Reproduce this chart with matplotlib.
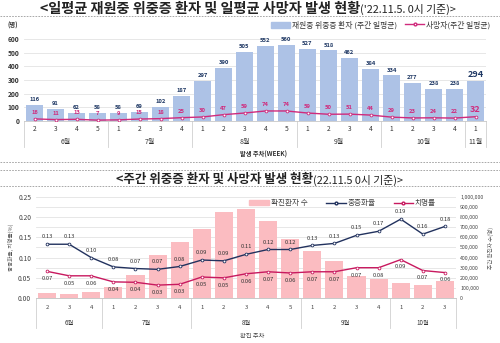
import matplotlib
matplotlib.use('Agg')
import matplotlib.pyplot as plt
from matplotlib.patches import Patch
from matplotlib.lines import Line2D
from matplotlib.ticker import FuncFormatter

plt.rcParams['font.family'] = ['Noto Sans CJK KR', 'DejaVu Sans']

# ---- top chart data (weekly daily averages)
top_weeks = ['2', '3', '4', '5', '1', '2', '3', '4', '1', '2', '3', '4', '5',
             '1', '2', '3', '4', '1', '2', '3', '4', '1']
top_months = ['6월', '7월', '8월', '9월', '10월', '11월']
top_month_sizes = [4, 4, 5, 4, 4, 1]
severe_avg = [116, 91, 62, 58, 58, 69, 102, 187, 297, 390, 505, 552, 560,
              527, 518, 462, 384, 334, 277, 238, 238, 294]
deaths_avg = [16, 11, 13, 7, 9, 15, 18, 25, 30, 47, 59, 74, 74,
              59, 50, 51, 44, 29, 23, 24, 22, 32]

# ---- bottom chart data (weekly)
bot_weeks = ['2', '3', '4', '1', '2', '3', '4', '1', '2', '3', '4', '5',
             '1', '2', '3', '4', '1', '2', '3']
bot_months = ['6월', '7월', '8월', '9월', '10월']
bot_month_sizes = [3, 4, 5, 4, 3]
confirmed = [52000, 43000, 59000, 111000, 226000, 423000, 551000, 679000, 846000,
             885000, 761000, 587000, 469000, 370000, 223000, 190000, 148000,
             134000, 164000]
severe_rate = [0.133, 0.133, 0.100, 0.077, 0.073, 0.071, 0.078, 0.094, 0.092,
               0.108, 0.120, 0.120, 0.130, 0.135, 0.155, 0.165, 0.195, 0.158, 0.177]
severe_lbl = [0.13, 0.13, 0.10, 0.08, 0.07, 0.07, 0.08, 0.09, 0.09, 0.11, 0.12,
              0.12, 0.13, 0.13, 0.15, 0.17, 0.19, 0.16, 0.18]
fatal_rate = [0.066, 0.055, 0.055, 0.040, 0.039, 0.032, 0.034, 0.052, 0.050,
              0.060, 0.065, 0.062, 0.065, 0.065, 0.075, 0.075, 0.095, 0.068, 0.063]
fatal_lbl = [0.07, 0.05, 0.06, 0.04, 0.04, 0.03, 0.03, 0.05, 0.05, 0.06, 0.07,
             0.06, 0.07, 0.07, 0.07, 0.08, 0.09, 0.07, 0.06]

BLUE = '#adc2e6'
NAVY = '#1f3864'
MAG = '#d02a7c'
PINK = '#fbbcc1'
DNAVY = '#22325e'
RED = '#c8195f'
GRID = '#e3e3e3'

fig = plt.figure(figsize=(5, 3.43), dpi=100)


def month_axis(ax, months, sizes, y_month, y_line, fs):
    pos = -0.5
    ax.plot([pos, pos], [0, y_line], transform=ax.get_xaxis_transform(),
            color='#d0d0d0', lw=0.6, clip_on=False)
    for m, s in zip(months, sizes):
        ax.text(pos + s / 2, y_month, m, transform=ax.get_xaxis_transform(),
                ha='center', va='center', fontsize=fs, color='#333333')
        pos += s
        ax.plot([pos, pos], [0, y_line], transform=ax.get_xaxis_transform(),
                color='#d0d0d0', lw=0.6, clip_on=False)


def dashed(y):
    fig.add_artist(Line2D([0, 1], [y, y], transform=fig.transFigure,
                          color='#9a9a9a', lw=0.6, ls=(0, (2, 1.5))))


# ================= top chart =================
fig.text(0.72, 0.975, '<일평균 재원중 위중증 환자 및 일평균 사망자 발생 현황',
         ha='right', va='center', fontsize=10.2, fontweight='bold', color='#222222')
fig.text(0.72, 0.972, "('22.11.5. 0시 기준)>", ha='left', va='center',
         fontsize=7.8, color='#222222')
dashed(0.953)

ax1 = fig.add_axes([0.048, 0.647, 0.924, 0.239])
x1 = range(len(severe_avg))
ax1.bar(x1, severe_avg, width=0.8, color=BLUE, zorder=2)
ax1.plot(x1, deaths_avg, color=MAG, lw=1, marker='o', ms=2, mfc='white',
         mec=MAG, mew=0.6, zorder=3)
for i, (v, d) in enumerate(zip(severe_avg, deaths_avg)):
    last = i == len(severe_avg) - 1
    ax1.annotate(str(v), (i, v), xytext=(0, 4.5 if last else 3.8),
                 textcoords='offset points', ha='center', va='center',
                 fontsize=6.5 if last else 4.2, fontweight='bold', color=NAVY)
    ax1.annotate(str(d), (i, d), xytext=(0, 5.5 if last else 4.6),
                 textcoords='offset points', ha='center', va='center',
                 fontsize=6.5 if last else 4.2, fontweight='bold', color=MAG)
ax1.set_xlim(-0.5, len(severe_avg) - 0.5)
ax1.set_ylim(0, 600)
ax1.set_yticks(range(0, 601, 100))
ax1.set_xticks(list(x1))
ax1.set_xticklabels(top_weeks)
ax1.tick_params(axis='both', length=0, labelsize=4.8, colors='#333333')
ax1.tick_params(axis='x', pad=3)
for lab in ax1.get_yticklabels():
    lab.set_fontweight('bold')
ax1.grid(axis='y', color=GRID, lw=0.6, zorder=0)
for s in ['top', 'right', 'left']:
    ax1.spines[s].set_visible(False)
ax1.spines['bottom'].set_color('#c8c8c8')
ax1.spines['bottom'].set_linewidth(0.6)
month_axis(ax1, top_months, top_month_sizes, -0.26, -0.32, 5)
ax1.text(-0.025, 1.17, '(명)', transform=ax1.transAxes, ha='center', va='center',
         fontsize=4.5, fontweight='bold', color='#333333')
fig.text(0.527, 0.551, '발생 주차(WEEK)', ha='center', va='center',
         fontsize=4.5, fontweight='bold', color='#333333')
h1 = [Patch(color=BLUE),
      Line2D([0], [0], color=MAG, lw=1, marker='o', ms=2, mfc='white', mec=MAG)]
fig.legend(h1, ['재원중 위중증 환자 (주간 일평균)', '사망자(주간 일평균)'],
           loc='center', bbox_to_anchor=(0.762, 0.927), ncol=2, frameon=False,
           fontsize=5.6, handlelength=2.4, handleheight=0.8, columnspacing=1.0,
           handletextpad=0.3, labelcolor='#333333')

dashed(0.528)
dashed(0.503)

# ================= bottom chart =================
fig.text(0.626, 0.478, '<주간 위중증 환자 및 사망자 발생 현황',
         ha='right', va='center', fontsize=9, fontweight='bold', color='#222222')
fig.text(0.626, 0.475, '(22.11.5 0시 기준)>', ha='left', va='center',
         fontsize=7.8, color='#222222')
dashed(0.457)

ax2 = fig.add_axes([0.072, 0.131, 0.84, 0.295])
ax3 = ax2.twinx()
ax2.set_zorder(ax3.get_zorder() + 1)
ax2.patch.set_visible(False)
x2 = range(len(confirmed))
ax3.bar(x2, confirmed, width=0.82, color=PINK, zorder=2)
ax3.set_ylim(0, 1000000)
ax3.set_yticks(range(0, 1000001, 100000))
ax3.yaxis.set_major_formatter(FuncFormatter(lambda v, p: f'{int(v):,}'))
ax3.tick_params(axis='y', length=0, labelsize=3.8, colors='#444444', pad=3)
ax3.set_ylabel('주간 확진자 수(명)', fontsize=4, color='#555555', labelpad=3)
ax3.grid(axis='y', color=GRID, lw=0.6, zorder=0)

ax2.plot(x2, severe_rate, color=DNAVY, lw=1, marker='o', ms=2, mfc='white',
         mec=DNAVY, mew=0.6, zorder=3)
ax2.plot(x2, fatal_rate, color=RED, lw=1, marker='o', ms=2, mfc='white',
         mec=RED, mew=0.6, zorder=3)
for i in x2:
    ax2.annotate(f'{severe_lbl[i]:.2f}', (i, severe_rate[i]), xytext=(0, 3.5),
                 textcoords='offset points', ha='center', va='bottom',
                 fontsize=4.2, color='#333333')
    ax2.annotate(f'{fatal_lbl[i]:.2f}', (i, fatal_rate[i]), xytext=(0, -3.5),
                 textcoords='offset points', ha='center', va='top',
                 fontsize=4.2, color='#333333')
ax2.set_xlim(-0.5, len(confirmed) - 0.5)
ax2.set_ylim(0, 0.25)
ax2.set_yticks([0, 0.05, 0.10, 0.15, 0.20, 0.25])
ax2.yaxis.set_major_formatter(FuncFormatter(lambda v, p: f'{v:.2f}'))
ax2.set_xticks(list(x2))
ax2.set_xticklabels(bot_weeks)
ax2.tick_params(axis='both', length=0, labelsize=4.8, colors='#444444')
ax2.tick_params(axis='x', labelsize=4.3, pad=5)
ax2.set_ylabel('중증화율, 치명률(%)', fontsize=4, color='#555555', labelpad=3)
for a in (ax2, ax3):
    for s in ['top', 'right', 'left']:
        a.spines[s].set_visible(False)
    a.spines['bottom'].set_color('#c8c8c8')
    a.spines['bottom'].set_linewidth(0.6)
month_axis(ax2, bot_months, bot_month_sizes, -0.25, -0.3, 4.5)
fig.text(0.504, 0.02, '확진 주차', ha='center', va='center', fontsize=4.5,
         color='#444444')
h2 = [Patch(color=PINK),
      Line2D([0], [0], color=DNAVY, lw=1, marker='o', ms=2, mfc='white', mec=DNAVY),
      Line2D([0], [0], color=RED, lw=1, marker='o', ms=2, mfc='white', mec=RED)]
ax2.legend(h2, ['확진환자 수', '중증화율', '치명률'], loc='center',
           bbox_to_anchor=(0.73, 0.935), ncol=3, frameon=False, fontsize=5.5,
           handlelength=2.6, handleheight=0.7, columnspacing=2.4,
           handletextpad=0.2, labelcolor='#444444')

fig.savefig('out.png', dpi=100)
